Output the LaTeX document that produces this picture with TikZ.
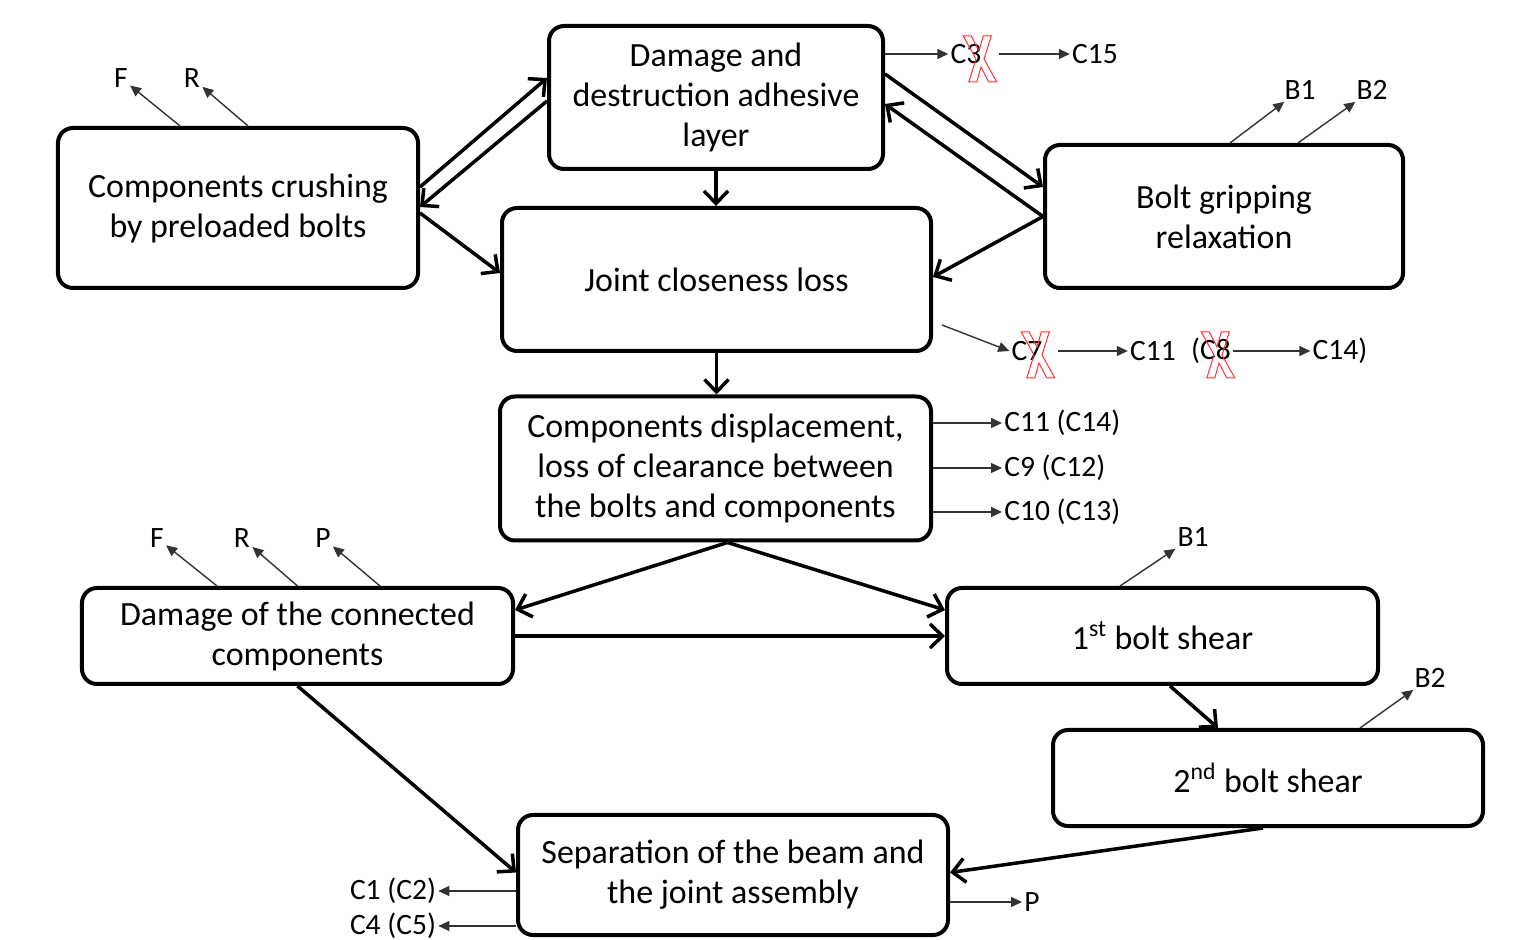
\documentclass[tikz,border=0pt]{standalone}
\usepackage{fontspec}
\setmainfont{Carlito}
\usetikzlibrary{calc}
\usetikzlibrary{arrows.meta}
\newcommand{\stagefont}{\fontsize{19.3}{22.8}\selectfont}
\newcommand{\sidefont}{\fontsize{16.8}{20}\selectfont}
\tikzset{
    % Rounded box for each stage of the joint failure
    stage/.style={
        draw, line width=0.8mm, rounded corners=3mm,
        align=center, font=\stagefont, inner sep=0},
%
    % Heavy arrow between two stages
    flow/.style={line width=0.7mm,
        -{Straight Barb[length=2.5mm,width=4.8mm]}},
%
    % Light arrow out to a side label
    side arrow/.style={line width=0.28mm, black!80,
        -{Triangle[length=2.2mm,width=2mm]}},
    side label/.style={font=\sidefont, inner sep=0.4mm},
%
    % Red outline used to strike out a label
    strike mark/.style={draw=red!80, line width=0.2mm}}
\newcommand{\strikeat}[1]{%
    \path [strike mark, shift={#1}, xslant=-0.12]
        (-14,-23) -- (-6,-23) -- (0,-8) -- (6,-23) -- (14,-23) -- (4,0)
        -- (14,23) -- (6,23) -- (0,8) -- (-6,23) -- (-14,23) -- (-4,0)
        -- cycle;}

\begin{document}
\begin{tikzpicture}[x=0.2mm, y=-0.2mm]

\useasboundingbox (0,0) rectangle (1533,940);

% Failure stages

\node [stage, minimum width=66.8mm, minimum height=28.6mm] (adhesive)
    at (716,97.5) {Damage and\\destruction adhesive\\layer};
\node [stage, minimum width=72mm, minimum height=32mm] (crushing)
    at (238,208) {Components crushing\\by preloaded bolts};
\node [stage, minimum width=85.8mm, minimum height=28.6mm] (closeness)
    at (716.5,279.5) {Joint closeness loss};
\node [stage, minimum width=71.6mm, minimum height=28.6mm] (gripping)
    at (1224,216.5) {Bolt gripping\\relaxation};
\node [stage, minimum width=86.2mm, minimum height=28.8mm] (displacement)
    at (715.5,468.5) {Components displacement,\\loss of clearance between\\the bolts and components};
\node [stage, minimum width=86.2mm, minimum height=19.2mm] (connected)
    at (297.5,636) {Damage of the connected\\components};
\node [stage, minimum width=86.2mm, minimum height=19.2mm] (firstshear)
    at (1162.5,636) {1\textsuperscript{st} bolt shear};
\node [stage, minimum width=86mm, minimum height=19.2mm] (secondshear)
    at (1268,778) {2\textsuperscript{nd} bolt shear};
\node [stage, minimum width=86mm, minimum height=24mm] (separation)
    at (733,875) {Separation of the beam and\\the joint assembly};

\path [draw, flow] ([yshift=4.2mm]crushing.east) -- ([yshift=3.9mm]adhesive.west);
\path [draw, flow] ([yshift=-0.7mm]adhesive.west) -- ([yshift=0.2mm]crushing.east);
\path [draw, flow] ([yshift=-1mm]crushing.east) -- ([yshift=1.3mm]closeness.west);
\path [draw, flow] (adhesive.south) -- (adhesive.south |- closeness.north);
\path [draw, flow] ([yshift=4.7mm]adhesive.east) -- ([yshift=5.9mm]gripping.west);
\path [draw, flow] (gripping.west) -- ([yshift=-1.3mm]adhesive.east);
\path [draw, flow] (gripping.west) -- ([yshift=0.5mm]closeness.east);
\path [draw, flow] (closeness.south) -- (closeness.south |- displacement.north);

\coordinate (split) at ([xshift=2.4mm]displacement.south);
\path [draw, flow] (split) -- ([yshift=5.2mm]connected.east);
\path [draw, flow] (split) -- ([yshift=5.2mm]firstshear.west);
\path [draw, flow] (connected) -- (firstshear);
\path [draw, flow] ([xshift=1.5mm]firstshear.south) -- ([xshift=-10mm]secondshear.north);
\path [draw, flow] (connected.south) -- ([yshift=0.5mm]separation.west);
\path [draw, flow] ([xshift=-1mm]secondshear.south) -- ([yshift=0.5mm]separation.east);

% Side labels

\node [side label] (crushF) at (121,78) {F};
\node [side label] (crushR) at (192,78) {R};
\path [draw, side arrow] ([xshift=-11.6mm]crushing.north) -- (crushF);
\path [draw, side arrow] ([xshift=2mm]crushing.north) -- (crushR);

\node [side label] (gripB1) at (1300,90) {B1};
\node [side label] (gripB2) at (1372,90) {B2};
\path [draw, side arrow] ([xshift=1.2mm]gripping.north) -- (gripB1);
\path [draw, side arrow] ([xshift=14.8mm]gripping.north) -- (gripB2);

\node [side label] (c3) at (966,54) {C3};
\node [side label] (c15) at (1095,54) {C15};
\path [draw, side arrow] (c3.west -| adhesive.east) -- (c3);
\path [draw, side arrow, shorten <=3mm] (c3) -- (c15);
\strikeat{($(c3)+(14,5)$)}

\node [side label] (c7) at (1027,351) {C7};
\node [side label] (c11) at (1153,351) {C11};
\node [side label] (c8) at (1211,351) {(C8};
\node [side label] (c14) at (1340,351) {C14)};
\path [draw, side arrow] ([xshift=1.8mm,yshift=-9.1mm]closeness.east) -- (c7.west);
\path [draw, side arrow, shorten <=2.6mm] (c7) -- (c11);
\path [draw, side arrow] (c8) -- (c14);
\strikeat{($(c7)+(11,4)$)}
\strikeat{($(c8)+(7,4)$)}

\node [side label, anchor=west] (disp11) at (1002,423) {C11 (C14)};
\node [side label, anchor=west] (disp9) at (1002,468) {C9 (C12)};
\node [side label, anchor=west] (disp10) at (1002,512) {C10 (C13)};
\path [draw, side arrow] (disp11.west -| displacement.east) -- (disp11.west);
\path [draw, side arrow] (disp9.west -| displacement.east) -- (disp9.west);
\path [draw, side arrow] (disp10.west -| displacement.east) -- (disp10.west);

\node [side label] (connF) at (157,538) {F};
\node [side label] (connR) at (242,538) {R};
\node [side label] (connP) at (323,538) {P};
\path [draw, side arrow] ([xshift=-16.1mm]connected.north) -- (connF);
\path [draw, side arrow] (connected.north) -- (connR);
\path [draw, side arrow] ([xshift=16.5mm]connected.north) -- (connP);

\node [side label] (firstB1) at (1193,537) {B1};
\path [draw, side arrow] ([xshift=-8.5mm]firstshear.north) -- (firstB1);

\node [side label] (secondB2) at (1430,678) {B2};
\path [draw, side arrow] ([xshift=18.4mm]secondshear.north) -- (secondB2);

\node [side label] (sepC1) at (393,891) {C1 (C2)};
\node [side label] (sepC4) at (393,926) {C4 (C5)};
\node [side label] (sepP) at (1032,902) {P};
\path [draw, side arrow] (sepC1.east -| separation.west) -- (sepC1);
\path [draw, side arrow] (sepC4.east -| separation.west) -- (sepC4);
\path [draw, side arrow] (sepP.west -| separation.east) -- (sepP);

\end{tikzpicture}
\end{document}
